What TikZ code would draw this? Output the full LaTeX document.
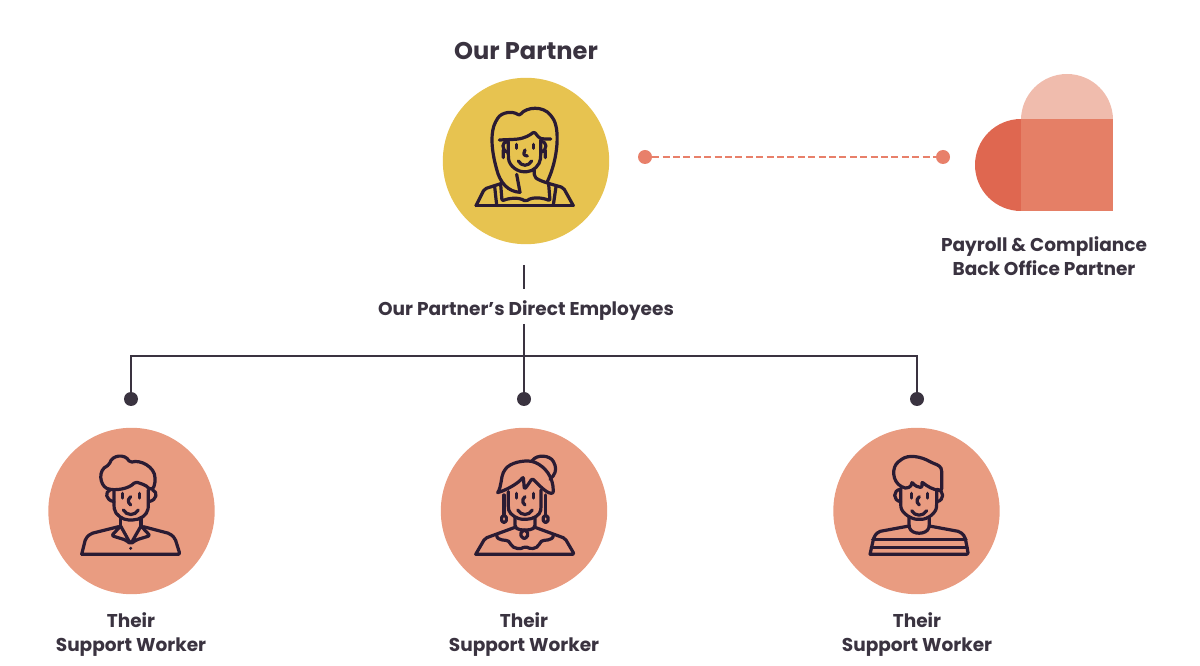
\documentclass[tikz,border=0pt]{standalone}
\usepackage{fontspec}
\setmainfont{Poppins}
\definecolor{ink}{HTML}{3A3340}
\definecolor{iconink}{HTML}{2A1B33}
\definecolor{gold}{HTML}{E7C350}
\definecolor{salmon}{HTML}{E99C81}
\definecolor{coral}{HTML}{E8806A}
\definecolor{heartlight}{HTML}{F0BCAD}
\definecolor{heartdark}{HTML}{DF6750}
\definecolor{heartmid}{HTML}{E57F66}
\tikzset{
  person/.style={circle,inner sep=0pt,minimum size=124.8pt},
  dotnode/.style={circle,inner sep=0pt,minimum size=10.5pt,fill=#1},
  caption/.style={font=\bfseries\fontsize{13.9pt}{18pt}\selectfont,text=ink,align=center,inner sep=0pt},
  iconline/.style={draw=iconink,line width=2.4pt,line cap=round,line join=round,rounded corners=1.5pt},
  iconbox/.style={shift={#1},x=0.25pt,y=-0.25pt}
}
\begin{document}
\begin{tikzpicture}[x=0.75pt,y=-0.75pt]
 \useasboundingbox (0,0) rectangle (1200,666);
 \node[person,fill=gold] (partner) at (526,161) {};
 \node[person,fill=salmon] (workerA) at (131.5,511) {};
 \node[person,fill=salmon] (workerB) at (524,511) {};
 \node[person,fill=salmon] (workerC) at (916.5,511) {};

 \node[caption,font=\bfseries\fontsize{18.1pt}{22pt}\selectfont] (partnertitle) at (526,51) {Our Partner};
 \node[caption] (direct) at (526,311) {Our Partner’s Direct Employees};
 \node[caption] (backtitle) at (1044,256.5) {Payroll \& Compliance\\Back Office Partner};
 \node[caption] (captionA) at (131,634.5) {Their\\Support Worker};
 \node[caption] (captionB) at (524,634.5) {Their\\Support Worker};
 \node[caption] (captionC) at (917,634.5) {Their\\Support Worker};

 \coordinate (stemtop) at (524,265);
 \coordinate (stemend) at (524,289);
 \coordinate (stemstart) at (524,324);
 \coordinate (busA) at (131,356);
 \coordinate (busC) at (917,356);
 \node[dotnode=ink] (dotA) at (131,399) {};
 \node[dotnode=ink] (dotB) at (524,399) {};
 \node[dotnode=ink] (dotC) at (917,399) {};
 \draw[ink,line width=1.5pt] (stemtop) -- (stemend);
 \draw[ink,line width=1.5pt] (stemstart) -- (dotB);
 \draw[ink,line width=1.5pt] (dotA) -- (busA) -- (busC) -- (dotC);

 \node[dotnode=coral] (dotL) at (645,157) {};
 \node[dotnode=coral] (dotR) at (943,157) {};
 \draw[coral,line width=1.1pt,dash pattern=on 5.2pt off 2.6pt] (dotL) -- (dotR);

 % heart
 \fill[heartlight] (1021,120) arc[start angle=180,end angle=360,radius=46] -- cycle;
 \fill[heartdark] (1021,119) arc[start angle=270,end angle=90,radius=46] -- cycle;
 \fill[heartmid] (1021,119) rectangle (1113,211);

 % partner
 \begin{scope}[iconbox={(440,75)}]
  \draw[iconline] (240,352) .. controls (205,350) and (180,325) .. (168,275) .. controls (155,225) and (150,170) .. (170,135) .. controls (185,110) and (220,108) .. (238,122) .. controls (260,95) and (310,92) .. (335,125) .. controls (360,160) and (355,250) .. (322,320);
  \draw[iconline] (240,352) -- (230,298);
  \draw[iconline] (178,195) -- (225,193) .. controls (255,190) and (270,180) .. (283,170) .. controls (290,180) and (298,190) .. (310,192) -- (332,192);
  \draw[iconline] (205,200) -- (205,245) .. controls (208,275) and (235,290) .. (255,290) .. controls (280,290) and (300,270) .. (302,245) -- (302,195);
  \draw[iconline] (203,200) .. controls (185,198) and (183,225) .. (203,232) (190,225) -- (190,248);
  \draw[iconline] (302,200) .. controls (322,198) and (324,225) .. (302,232) (316,225) -- (316,248);
  \draw[iconline] (230,208) -- (230,220) (280,208) -- (280,220);
  \draw[iconline] (255,225) -- (250,240) -- (262,243);
  \draw[iconline] (235,258) .. controls (245,275) and (265,275) .. (275,258);
  \draw[iconline] (283,285) -- (283,305) .. controls (295,315) and (310,320) .. (325,325);
  \draw[iconline] (108,392) -- (400,392);
  \draw[iconline] (108,392) -- (133,342) -- (185,325);
  \draw[iconline] (325,325) -- (370,338) -- (400,392);
  \draw[iconline] (164,335) -- (170,390) (182,328) -- (186,378) .. controls (205,370) and (235,365) .. (258,380) .. controls (275,365) and (310,368) .. (330,378) -- (326,328) (348,335) -- (340,390);
 \end{scope}

 % worker with curly hair
 \begin{scope}[iconbox={(60,440)}]
  \draw[iconline] (140,145) .. controls (120,135) and (112,90) .. (148,75) .. controls (155,45) and (195,40) .. (210,68) .. controls (240,58) and (285,80) .. (285,120) .. controls (285,135) and (280,145) .. (270,150) .. controls (260,135) and (240,130) .. (225,125) .. controls (210,145) and (165,155) .. (140,145);
  \draw[iconline] (150,150) .. controls (135,155) and (135,180) .. (162,185);
  \draw[iconline] (278,150) .. controls (293,155) and (293,180) .. (266,185);
  \draw[iconline] (162,150) -- (162,200) .. controls (165,225) and (190,240) .. (212,240) .. controls (240,240) and (262,225) .. (265,200) -- (265,150);
  \draw[iconline] (188,160) -- (188,174) (238,160) -- (238,174);
  \draw[iconline] (212,170) -- (202,183) -- (212,195);
  \draw[iconline] (190,210) .. controls (200,228) and (225,228) .. (235,210);
  \draw[iconline] (182,235) -- (182,258) (243,235) -- (243,258);
  \draw[iconline] (182,258) -- (155,287) -- (197,300) -- (212,312) -- (228,300) -- (270,287) -- (243,258) (182,258) -- (212,312) -- (243,258);
  \draw[iconline] (65,343) -- (360,343) -- (345,295) -- (330,281) -- (250,260) (65,343) -- (77,295) -- (92,281) -- (176,260);
  \fill[iconink] (212,325) circle (5);
 \end{scope}

 % worker with hair bun
 \begin{scope}[iconbox={(455,440)}]
  \draw[iconline] (128,158) .. controls (140,140) and (138,110) .. (148,92) .. controls (165,68) and (205,60) .. (235,65) .. controls (270,80) and (295,110) .. (295,160) .. controls (280,160) and (265,150) .. (232,115) .. controls (225,125) and (215,140) .. (208,148) -- (205,110) .. controls (190,130) and (155,150) .. (128,158);
  \draw[iconline] (232,62) .. controls (245,42) and (285,45) .. (298,70) .. controls (305,90) and (300,105) .. (285,118);
  \draw[iconline] (160,155) -- (160,205) .. controls (165,225) and (190,238) .. (208,238) .. controls (235,238) and (255,225) .. (258,205) -- (258,150);
  \draw[iconline] (147,165) -- (147,224) (272,165) -- (272,224);
  \draw[iconline] (147,224) -- (158,237) -- (147,250) -- (136,237) -- cycle (272,224) -- (283,237) -- (272,250) -- (261,237) -- cycle;
  \draw[iconline] (185,160) -- (185,174) (235,160) -- (235,174);
  \draw[iconline] (210,170) -- (200,183) -- (210,195);
  \draw[iconline] (188,210) .. controls (198,228) and (222,228) .. (232,210);
  \draw[iconline] (180,232) -- (180,262) .. controls (195,272) and (225,272) .. (240,262) -- (240,232);
  \draw[iconline] (208,268) -- (222,283) -- (208,298) -- (194,283) -- cycle;
  \draw[iconline] (62,343) -- (358,343) -- (330,295) -- (240,262) (62,343) -- (90,295) -- (180,262);
  \draw[iconline] (125,285) .. controls (125,305) and (155,298) .. (165,308) .. controls (175,328) and (200,328) .. (210,318) .. controls (225,328) and (245,328) .. (255,308) .. controls (265,298) and (295,305) .. (295,285);
 \end{scope}

 % worker with striped top
 \begin{scope}[iconbox={(850,440)}]
  \draw[iconline] (155,140) .. controls (125,125) and (125,80) .. (150,62) .. controls (175,42) and (215,50) .. (245,68) .. controls (265,75) and (275,80) .. (275,100) -- (275,152) .. controls (250,150) and (230,138) .. (215,125) -- (217,142) .. controls (205,142) and (195,138) .. (185,125) .. controls (185,140) and (170,150) .. (155,140);
  \draw[iconline] (152,148) .. controls (128,150) and (128,182) .. (152,185);
  \draw[iconline] (260,148) .. controls (284,150) and (284,182) .. (260,185);
  \draw[iconline] (152,145) -- (152,195) .. controls (155,220) and (185,238) .. (208,238) .. controls (232,238) and (258,220) .. (260,195) -- (260,150);
  \draw[iconline] (185,160) -- (185,174) (232,160) -- (232,174);
  \draw[iconline] (208,170) -- (198,183) -- (208,195);
  \draw[iconline] (185,212) .. controls (195,230) and (220,230) .. (230,212);
  \draw[iconline] (177,232) -- (177,258) .. controls (185,285) and (230,285) .. (238,258) -- (238,232);
  \draw[iconline] (60,343) -- (355,343) -- (345,290) -- (330,275) -- (238,258) (60,343) -- (72,290) -- (85,275) -- (177,258);
  \draw[iconline] (68,298) -- (348,298) (64,322) -- (352,322);
 \end{scope}
\end{tikzpicture}
\end{document}
